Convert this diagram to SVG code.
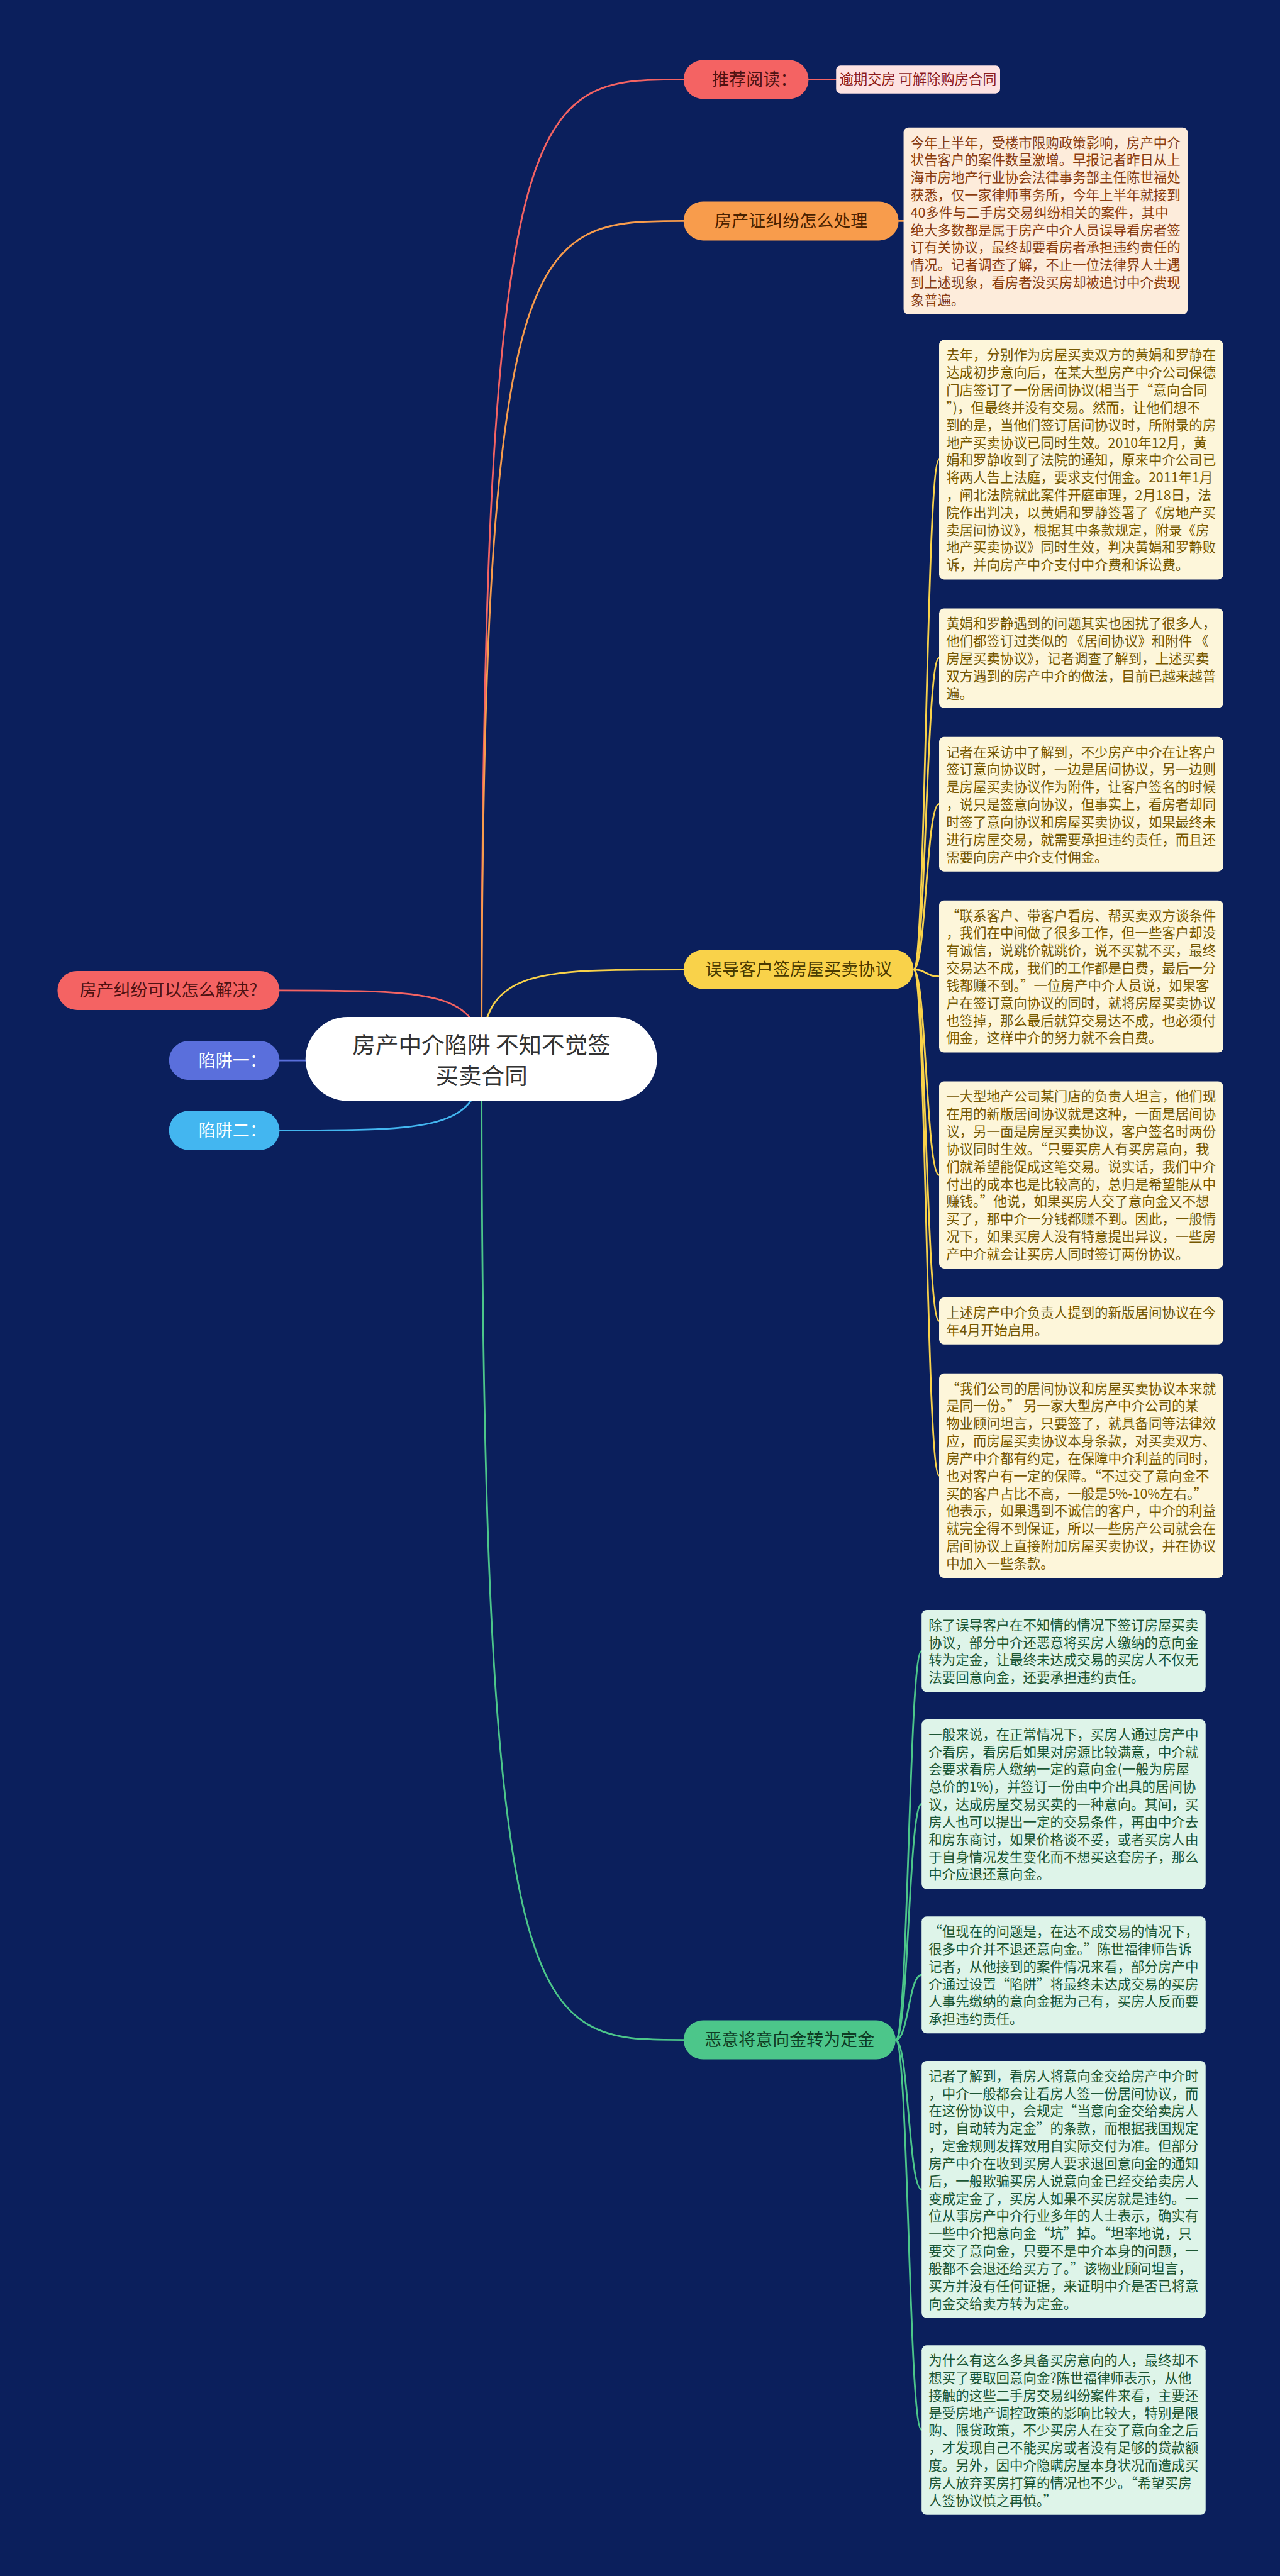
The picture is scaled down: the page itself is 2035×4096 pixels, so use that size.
<svg xmlns="http://www.w3.org/2000/svg" width="2035" height="4096" viewBox="0 0 2035 4096">
<style>
text{font-family:"Noto Sans CJK SC","Noto Sans",sans-serif;}
.pill{font-size:34px;text-anchor:middle;}
.bt{font-size:27px;}
.ob{fill:#fdecdb;}
.ot{fill:#8a3d10;}
.yb{fill:#fdf6da;}
.yt{fill:#765800;}
.gb{fill:#def4e9;}
.gt{fill:#1b5634;}
.c{fill:none;stroke-width:3.5;stroke-linecap:round;}
</style>
<rect width="2035" height="4096" fill="#0b1f5c"/>
<g transform="scale(0.795)">
<g id="connectors">
<path class="c" stroke="#f46363" d="M963 2118 C963 1981 862 1981 559 1981"/>
<path class="c" stroke="#5a6fdc" d="M963 2118 C963 2121 862 2121 559 2121"/>
<path class="c" stroke="#43b6f0" d="M963 2118 C963 2261 862 2261 559 2261"/>
<path class="c" stroke="#f46363" d="M963 2118 C963 159 1064 159 1367 159"/>
<path class="c" stroke="#f89c4c" d="M963 2118 C963 442 1064 442 1367 442"/>
<path class="c" stroke="#f9d24a" d="M963 2118 C963 1939 1064 1939 1367 1939"/>
<path class="c" stroke="#4cc68a" d="M963 2118 C963 4080 1064 4080 1367 4080"/>
<path class="c" stroke="#f46363" d="M1617 159 L1672 159"/>
<path class="c" stroke="#f89c4c" d="M1797 442 L1807 442"/>
<g stroke="#f9d24a" class="c" stroke-width="3">
<path d="M1827 1939 C1852 1939 1852 919 1878 919"/>
<path d="M1827 1939 C1852 1939 1852 1316 1878 1316"/>
<path d="M1827 1939 C1852 1939 1852 1608 1878 1608"/>
<path d="M1827 1939 C1852 1939 1852 1953 1878 1953"/>
<path d="M1827 1939 C1852 1939 1852 2350 1878 2350"/>
<path d="M1827 1939 C1852 1939 1852 2642 1878 2642"/>
<path d="M1827 1939 C1852 1939 1852 2951 1878 2951"/>
</g>
<g stroke="#4cc68a" class="c" stroke-width="3">
<path d="M1791 4080 C1817 4080 1817 3302 1843 3302"/>
<path d="M1791 4080 C1817 4080 1817 3608 1843 3608"/>
<path d="M1791 4080 C1817 4080 1817 3950 1843 3950"/>
<path d="M1791 4080 C1817 4080 1817 4379 1843 4379"/>
<path d="M1791 4080 C1817 4080 1817 4860 1843 4860"/>
</g>
</g>
<g id="root">
<rect x="611" y="2034" width="703" height="168" rx="84" fill="#ffffff"/>
<text x="963" y="2107" font-size="46" text-anchor="middle" fill="#333333">房产中介陷阱 不知不觉签</text>
<text x="963" y="2169" font-size="46" text-anchor="middle" fill="#333333">买卖合同</text>
</g>
<g id="left1"><rect x="115" y="1942" width="444" height="78" rx="39" fill="#f46363"/><text class="pill" x="337" y="1993" fill="#4f1212">房产纠纷可以怎么解决?</text></g>
<g id="left2"><rect x="338" y="2082" width="221" height="78" rx="39" fill="#5a6fdc"/><text class="pill" x="465" y="2133" fill="#ffffff">陷阱一：</text></g>
<g id="left3"><rect x="338" y="2222" width="221" height="78" rx="39" fill="#43b6f0"/><text class="pill" x="465" y="2273" fill="#ffffff">陷阱二：</text></g>
<g id="b-recommend"><rect x="1367" y="120" width="250" height="78" rx="39" fill="#f46363"/><text class="pill" x="1509" y="171" fill="#4f1212">推荐阅读：</text></g>
<g id="link"><rect x="1672" y="131" width="328" height="56" rx="9" fill="#fde2e2"/><text x="1836" y="169" font-size="28" text-anchor="middle" fill="#8e1b1b">逾期交房 可解除购房合同</text></g>
<g id="b-cert"><rect x="1367" y="403" width="430" height="78" rx="39" fill="#f89c4c"/><text class="pill" x="1582" y="454" fill="#4a2200">房产证纠纷怎么处理</text></g>
<g id="box1"><rect class="ob" x="1807" y="255" width="568" height="374" rx="10"/>
<text class="bt ot" x="1821" y="295"><tspan x="1821">今年上半年，受楼市限购政策影响，房产中介</tspan><tspan x="1821" dy="35">状告客户的案件数量激增。早报记者昨日从上</tspan><tspan x="1821" dy="35">海市房地产行业协会法律事务部主任陈世福处</tspan><tspan x="1821" dy="35">获悉，仅一家律师事务所，今年上半年就接到</tspan><tspan x="1821" dy="35">40多件与二手房交易纠纷相关的案件，其中</tspan><tspan x="1821" dy="35">绝大多数都是属于房产中介人员误导看房者签</tspan><tspan x="1821" dy="35">订有关协议，最终却要看房者承担违约责任的</tspan><tspan x="1821" dy="35">情况。记者调查了解，不止一位法律界人士遇</tspan><tspan x="1821" dy="35">到上述现象，看房者没买房却被追讨中介费现</tspan><tspan x="1821" dy="35">象普遍。</tspan></text></g>
<g id="b-mislead"><rect x="1367" y="1900" width="460" height="78" rx="39" fill="#f9d24a"/><text class="pill" x="1597" y="1951" fill="#4a3a00">误导客户签房屋买卖协议</text></g>
<g id="box2"><rect class="yb" x="1878" y="680" width="568" height="479" rx="10"/>
<text class="bt yt" x="1892" y="720"><tspan x="1892">去年，分别作为房屋买卖双方的黄娟和罗静在</tspan><tspan x="1892" dy="35">达成初步意向后，在某大型房产中介公司保德</tspan><tspan x="1892" dy="35">门店签订了一份居间协议(相当于“意向合同</tspan><tspan x="1892" dy="35">”)，但最终并没有交易。然而，让他们想不</tspan><tspan x="1892" dy="35">到的是，当他们签订居间协议时，所附录的房</tspan><tspan x="1892" dy="35">地产买卖协议已同时生效。2010年12月，黄</tspan><tspan x="1892" dy="35">娟和罗静收到了法院的通知，原来中介公司已</tspan><tspan x="1892" dy="35">将两人告上法庭，要求支付佣金。2011年1月</tspan><tspan x="1892" dy="35">，闸北法院就此案件开庭审理，2月18日，法</tspan><tspan x="1892" dy="35">院作出判决，以黄娟和罗静签署了《房地产买</tspan><tspan x="1892" dy="35">卖居间协议》，根据其中条款规定，附录《房</tspan><tspan x="1892" dy="35">地产买卖协议》同时生效，判决黄娟和罗静败</tspan><tspan x="1892" dy="35">诉，并向房产中介支付中介费和诉讼费。</tspan></text></g>
<g id="box3"><rect class="yb" x="1878" y="1217" width="568" height="199" rx="10"/>
<text class="bt yt" x="1892" y="1257"><tspan x="1892">黄娟和罗静遇到的问题其实也困扰了很多人，</tspan><tspan x="1892" dy="35">他们都签订过类似的 《居间协议》和附件 《</tspan><tspan x="1892" dy="35">房屋买卖协议》，记者调查了解到，上述买卖</tspan><tspan x="1892" dy="35">双方遇到的房产中介的做法，目前已越来越普</tspan><tspan x="1892" dy="35">遍。</tspan></text></g>
<g id="box4"><rect class="yb" x="1878" y="1474" width="568" height="269" rx="10"/>
<text class="bt yt" x="1892" y="1514"><tspan x="1892">记者在采访中了解到，不少房产中介在让客户</tspan><tspan x="1892" dy="35">签订意向协议时，一边是居间协议，另一边则</tspan><tspan x="1892" dy="35">是房屋买卖协议作为附件，让客户签名的时候</tspan><tspan x="1892" dy="35">，说只是签意向协议，但事实上，看房者却同</tspan><tspan x="1892" dy="35">时签了意向协议和房屋买卖协议，如果最终未</tspan><tspan x="1892" dy="35">进行房屋交易，就需要承担违约责任，而且还</tspan><tspan x="1892" dy="35">需要向房产中介支付佣金。</tspan></text></g>
<g id="box5"><rect class="yb" x="1878" y="1801" width="568" height="304" rx="10"/>
<text class="bt yt" x="1892" y="1841"><tspan x="1892">“联系客户、带客户看房、帮买卖双方谈条件</tspan><tspan x="1892" dy="35">，我们在中间做了很多工作，但一些客户却没</tspan><tspan x="1892" dy="35">有诚信，说跳价就跳价，说不买就不买，最终</tspan><tspan x="1892" dy="35">交易达不成，我们的工作都是白费，最后一分</tspan><tspan x="1892" dy="35">钱都赚不到。”一位房产中介人员说，如果客</tspan><tspan x="1892" dy="35">户在签订意向协议的同时，就将房屋买卖协议</tspan><tspan x="1892" dy="35">也签掉，那么最后就算交易达不成，也必须付</tspan><tspan x="1892" dy="35">佣金，这样中介的努力就不会白费。</tspan></text></g>
<g id="box6"><rect class="yb" x="1878" y="2163" width="568" height="374" rx="10"/>
<text class="bt yt" x="1892" y="2203"><tspan x="1892">一大型地产公司某门店的负责人坦言，他们现</tspan><tspan x="1892" dy="35">在用的新版居间协议就是这种，一面是居间协</tspan><tspan x="1892" dy="35">议，另一面是房屋买卖协议，客户签名时两份</tspan><tspan x="1892" dy="35">协议同时生效。“只要买房人有买房意向，我</tspan><tspan x="1892" dy="35">们就希望能促成这笔交易。说实话，我们中介</tspan><tspan x="1892" dy="35">付出的成本也是比较高的，总归是希望能从中</tspan><tspan x="1892" dy="35">赚钱。”他说，如果买房人交了意向金又不想</tspan><tspan x="1892" dy="35">买了，那中介一分钱都赚不到。因此，一般情</tspan><tspan x="1892" dy="35">况下，如果买房人没有特意提出异议，一些房</tspan><tspan x="1892" dy="35">产中介就会让买房人同时签订两份协议。</tspan></text></g>
<g id="box7"><rect class="yb" x="1878" y="2595" width="568" height="94" rx="10"/>
<text class="bt yt" x="1892" y="2635"><tspan x="1892">上述房产中介负责人提到的新版居间协议在今</tspan><tspan x="1892" dy="35">年4月开始启用。</tspan></text></g>
<g id="box8"><rect class="yb" x="1878" y="2747" width="568" height="409" rx="10"/>
<text class="bt yt" x="1892" y="2787"><tspan x="1892">“我们公司的居间协议和房屋买卖协议本来就</tspan><tspan x="1892" dy="35">是同一份。” 另一家大型房产中介公司的某</tspan><tspan x="1892" dy="35">物业顾问坦言，只要签了，就具备同等法律效</tspan><tspan x="1892" dy="35">应，而房屋买卖协议本身条款，对买卖双方、</tspan><tspan x="1892" dy="35">房产中介都有约定，在保障中介利益的同时，</tspan><tspan x="1892" dy="35">也对客户有一定的保障。“不过交了意向金不</tspan><tspan x="1892" dy="35">买的客户占比不高，一般是5%-10%左右。”</tspan><tspan x="1892" dy="35">他表示，如果遇到不诚信的客户，中介的利益</tspan><tspan x="1892" dy="35">就完全得不到保证，所以一些房产公司就会在</tspan><tspan x="1892" dy="35">居间协议上直接附加房屋买卖协议，并在协议</tspan><tspan x="1892" dy="35">中加入一些条款。</tspan></text></g>
<g id="b-deposit"><rect x="1367" y="4041" width="424" height="78" rx="39" fill="#4cc68a"/><text class="pill" x="1579" y="4092" fill="#0f3d24">恶意将意向金转为定金</text></g>
<g id="box9"><rect class="gb" x="1843" y="3220" width="568" height="164" rx="10"/>
<text class="bt gt" x="1857" y="3260"><tspan x="1857">除了误导客户在不知情的情况下签订房屋买卖</tspan><tspan x="1857" dy="35">协议，部分中介还恶意将买房人缴纳的意向金</tspan><tspan x="1857" dy="35">转为定金，让最终未达成交易的买房人不仅无</tspan><tspan x="1857" dy="35">法要回意向金，还要承担违约责任。</tspan></text></g>
<g id="box10"><rect class="gb" x="1843" y="3439" width="568" height="339" rx="10"/>
<text class="bt gt" x="1857" y="3479"><tspan x="1857">一般来说，在正常情况下，买房人通过房产中</tspan><tspan x="1857" dy="35">介看房，看房后如果对房源比较满意，中介就</tspan><tspan x="1857" dy="35">会要求看房人缴纳一定的意向金(一般为房屋</tspan><tspan x="1857" dy="35">总价的1%)，并签订一份由中介出具的居间协</tspan><tspan x="1857" dy="35">议，达成房屋交易买卖的一种意向。其间，买</tspan><tspan x="1857" dy="35">房人也可以提出一定的交易条件，再由中介去</tspan><tspan x="1857" dy="35">和房东商讨，如果价格谈不妥，或者买房人由</tspan><tspan x="1857" dy="35">于自身情况发生变化而不想买这套房子，那么</tspan><tspan x="1857" dy="35">中介应退还意向金。</tspan></text></g>
<g id="box11"><rect class="gb" x="1843" y="3833" width="568" height="234" rx="10"/>
<text class="bt gt" x="1857" y="3873"><tspan x="1857">“但现在的问题是，在达不成交易的情况下，</tspan><tspan x="1857" dy="35">很多中介并不退还意向金。”陈世福律师告诉</tspan><tspan x="1857" dy="35">记者，从他接到的案件情况来看，部分房产中</tspan><tspan x="1857" dy="35">介通过设置“陷阱”将最终未达成交易的买房</tspan><tspan x="1857" dy="35">人事先缴纳的意向金据为己有，买房人反而要</tspan><tspan x="1857" dy="35">承担违约责任。</tspan></text></g>
<g id="box12"><rect class="gb" x="1843" y="4122" width="568" height="514" rx="10"/>
<text class="bt gt" x="1857" y="4162"><tspan x="1857">记者了解到，看房人将意向金交给房产中介时</tspan><tspan x="1857" dy="35">，中介一般都会让看房人签一份居间协议，而</tspan><tspan x="1857" dy="35">在这份协议中，会规定“当意向金交给卖房人</tspan><tspan x="1857" dy="35">时，自动转为定金”的条款，而根据我国规定</tspan><tspan x="1857" dy="35">，定金规则发挥效用自实际交付为准。但部分</tspan><tspan x="1857" dy="35">房产中介在收到买房人要求退回意向金的通知</tspan><tspan x="1857" dy="35">后，一般欺骗买房人说意向金已经交给卖房人</tspan><tspan x="1857" dy="35">变成定金了，买房人如果不买房就是违约。一</tspan><tspan x="1857" dy="35">位从事房产中介行业多年的人士表示，确实有</tspan><tspan x="1857" dy="35">一些中介把意向金“坑”掉。“坦率地说，只</tspan><tspan x="1857" dy="35">要交了意向金，只要不是中介本身的问题，一</tspan><tspan x="1857" dy="35">般都不会退还给买方了。”该物业顾问坦言，</tspan><tspan x="1857" dy="35">买方并没有任何证据，来证明中介是否已将意</tspan><tspan x="1857" dy="35">向金交给卖方转为定金。</tspan></text></g>
<g id="box13"><rect class="gb" x="1843" y="4691" width="568" height="339" rx="10"/>
<text class="bt gt" x="1857" y="4731"><tspan x="1857">为什么有这么多具备买房意向的人，最终却不</tspan><tspan x="1857" dy="35">想买了要取回意向金?陈世福律师表示，从他</tspan><tspan x="1857" dy="35">接触的这些二手房交易纠纷案件来看，主要还</tspan><tspan x="1857" dy="35">是受房地产调控政策的影响比较大，特别是限</tspan><tspan x="1857" dy="35">购、限贷政策，不少买房人在交了意向金之后</tspan><tspan x="1857" dy="35">，才发现自己不能买房或者没有足够的贷款额</tspan><tspan x="1857" dy="35">度。另外，因中介隐瞒房屋本身状况而造成买</tspan><tspan x="1857" dy="35">房人放弃买房打算的情况也不少。“希望买房</tspan><tspan x="1857" dy="35">人签协议慎之再慎。”</tspan></text></g>
</g>
</svg>
